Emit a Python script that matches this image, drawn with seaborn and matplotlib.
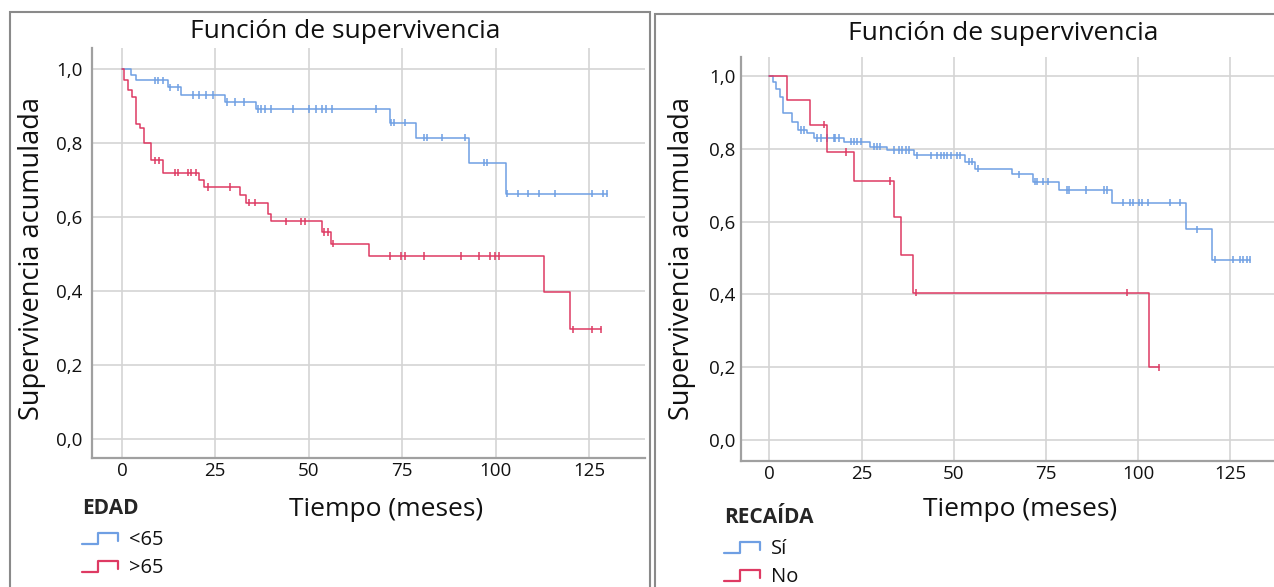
import numpy as np
import pandas as pd
import matplotlib.pyplot as plt
from matplotlib.lines import Line2D
from matplotlib.patches import Rectangle
from matplotlib.legend_handler import HandlerBase
from matplotlib.ticker import FuncFormatter
import seaborn as sns

# Panel izquierdo: EDAD
edad_menor_t = [0, 2.5, 3.8, 12.4, 15.9, 27.5, 35.8, 71.8, 78.8, 93.0, 102.9]
edad_menor_s = [1.0, 0.985, 0.97, 0.951, 0.93, 0.911, 0.892, 0.855, 0.815, 0.747, 0.664]
edad_menor_cens = [8.8, 9.7, 11.0, 12.9, 15.0, 19.0, 20.6, 22.6, 24.4, 28.0, 30.2, 32.8,
                   36.4, 37.3, 38.2, 40.0, 45.8, 50.2, 52.0, 53.6, 54.6, 56.3, 68.0,
                   72.1, 72.9, 75.9, 80.9, 81.7, 85.8, 91.9, 97.0, 97.8, 103.2, 105.9,
                   108.8, 111.7, 115.8, 125.9, 128.7, 129.9]

edad_mayor_t = [0, 0.5, 1.7, 2.8, 3.9, 4.8, 5.9, 7.9, 10.9, 20.7, 21.9, 31.7, 33.1,
                39.1, 40.0, 53.6, 56.0, 66.0, 113.0, 119.8]
edad_mayor_s = [1.0, 0.97, 0.943, 0.925, 0.853, 0.84, 0.80, 0.754, 0.72, 0.70, 0.682,
                0.661, 0.639, 0.61, 0.589, 0.56, 0.529, 0.495, 0.398, 0.297]
edad_mayor_cens = [8.8, 10.0, 14.2, 14.9, 17.7, 18.6, 19.9, 23.1, 28.9, 34.0, 35.5, 44.0,
                   48.0, 48.9, 54.2, 55.2, 56.5, 71.8, 74.7, 75.9, 80.9, 90.7, 95.7,
                   98.5, 99.9, 100.8, 120.7, 125.9, 128.1]

# Panel derecho: RECAIDA
recaida_si_t = [0, 1.0, 1.9, 3.0, 3.6, 6.0, 7.8, 10.2, 12.1, 20.2, 27.4, 31.9, 39.2,
                53.0, 55.7, 65.7, 71.5, 78.6, 92.8, 112.9, 119.9]
recaida_si_s = [1.0, 0.984, 0.966, 0.943, 0.898, 0.874, 0.852, 0.843, 0.83, 0.82, 0.806,
                0.797, 0.783, 0.765, 0.746, 0.73, 0.71, 0.687, 0.652, 0.579, 0.496]
recaida_si_cens = [8.5, 9.4, 13.0, 13.9, 15.7, 17.5, 17.9, 18.8, 22.0, 22.9, 23.8, 24.7,
                   28.3, 29.2, 30.1, 33.7, 35.1, 36.0, 36.9, 37.8, 40.1, 43.7, 45.5,
                   46.4, 47.3, 48.2, 49.1, 50.9, 51.8, 54.0, 54.8, 56.6, 67.8, 72.0,
                   72.6, 74.2, 75.6, 80.6, 81.3, 85.8, 90.8, 91.4, 95.8, 97.8, 98.5,
                   100.3, 100.9, 102.7, 108.6, 111.3, 115.8, 120.8, 125.6, 127.6,
                   128.5, 129.4, 130.3]

recaida_no_t = [0, 4.9, 10.9, 15.7, 22.9, 33.7, 35.7, 38.8, 102.8]
recaida_no_s = [1.0, 0.934, 0.867, 0.792, 0.712, 0.612, 0.508, 0.405, 0.20]
recaida_no_cens = [14.8, 20.9, 32.8, 39.7, 96.9, 105.7]

edad_labels = ["<65", ">65"]
recaida_labels = ["Sí", "No"]

AZUL = "#6f9fe3"
ROJO = "#de3a63"
FONT = ["Open Sans", "DejaVu Sans"]


def curve_frames(groups):
    steps, cens = [], []
    for name, t, s, c in groups:
        t = list(t) + [max(c)]
        s = list(s) + [s[-1]]
        steps.append(pd.DataFrame({"t": t, "s": s, "g": name}))
        idx = np.searchsorted(t, c, side="right") - 1
        cens.append(pd.DataFrame({"t": c, "s": np.array(s)[idx], "g": name}))
    return pd.concat(steps), pd.concat(cens)


class StepHandler(HandlerBase):
    def create_artists(self, legend, orig_handle, xdescent, ydescent,
                       width, height, fontsize, trans):
        xs = np.array([0, 0.45, 0.45, 1.0, 1.0]) * width - xdescent
        ys = np.array([0.05, 0.05, 0.85, 0.85, 0.3]) * height - ydescent
        ln = Line2D(xs, ys, color=orig_handle.get_color(), lw=1.6, transform=trans)
        return [ln]


def draw_panel(fig, rect, groups, xlim, ylim, ytick_pad):
    ax = fig.add_axes(rect)
    steps, cens = curve_frames(groups)
    pal = {g[0]: c for g, c in zip(groups, [AZUL, ROJO])}
    sns.lineplot(data=steps, x="t", y="s", hue="g", palette=pal, estimator=None,
                 drawstyle="steps-post", linewidth=1.1, legend=False, ax=ax)
    sns.scatterplot(data=cens, x="t", y="s", hue="g", palette=pal, marker="|",
                    s=28, linewidth=1.1, legend=False, ax=ax)
    ax.set_xlim(*xlim)
    ax.set_ylim(*ylim)
    ax.set_xticks([0, 25, 50, 75, 100, 125])
    ax.set_yticks([0, 0.2, 0.4, 0.6, 0.8, 1.0])
    ax.yaxis.set_major_formatter(FuncFormatter(lambda v, p: f"{v:.1f}".replace(".", ",")))
    ax.set_xlabel("")
    ax.set_ylabel("")
    ax.grid(True, color="#d4d4d4", linewidth=1.2)
    for side in ["top", "right"]:
        ax.spines[side].set_visible(False)
    for side in ["left", "bottom"]:
        ax.spines[side].set_color("#a0a0a0")
        ax.spines[side].set_linewidth(1.6)
    ax.tick_params(axis="both", length=0, labelsize=13.5, colors="#111111")
    ax.tick_params(axis="y", pad=ytick_pad)
    ax.tick_params(axis="x", pad=3)
    return ax


def main():
    sns.set_style("white")
    plt.rcParams["font.family"] = FONT

    W, H = 1274, 587
    fig = plt.figure(figsize=(W / 100, H / 100), dpi=100)

    def fx(px):
        return px / W

    def fy(py):
        return 1 - py / H

    # marcos de los paneles
    fig.add_artist(Rectangle((fx(10), fy(600)), fx(640), (600 - 12) / H, fill=False,
                             edgecolor="#8a8a8a", linewidth=1.5, transform=fig.transFigure))
    fig.add_artist(Rectangle((fx(655), fy(600)), fx(640), (600 - 14) / H, fill=False,
                             edgecolor="#8a8a8a", linewidth=1.5, transform=fig.transFigure))

    draw_panel(fig, [fx(92), fy(458), fx(645 - 92), (458 - 48) / H],
               [(edad_labels[0], edad_menor_t, edad_menor_s, edad_menor_cens),
                (edad_labels[1], edad_mayor_t, edad_mayor_s, edad_mayor_cens)],
               (-8, 140), (-0.05, 1.057), 7)
    draw_panel(fig, [fx(741), fy(461), fx(1274 - 741), (461 - 57) / H],
               [(recaida_labels[0], recaida_si_t, recaida_si_s, recaida_si_cens),
                (recaida_labels[1], recaida_no_t, recaida_no_s, recaida_no_cens)],
               (-7.7, 136.8), (-0.058, 1.053), 4)

    txt = dict(color="#111111", ha="center", va="center")
    fig.text(fx(345), fy(31), "Función de supervivencia", fontsize=19, **txt)
    fig.text(fx(1003), fy(34), "Función de supervivencia", fontsize=19, **txt)
    fig.text(fx(32), fy(258), "Supervivencia acumulada", fontsize=19.5, rotation=90, **txt)
    fig.text(fx(682), fy(258), "Supervivencia acumulada", fontsize=19.5, rotation=90, **txt)
    fig.text(fx(386), fy(510), "Tiempo (meses)", fontsize=19, **txt)
    fig.text(fx(1020), fy(510), "Tiempo (meses)", fontsize=19, **txt)

    for title, labels, x0, y0 in [("EDAD", edad_labels, 78, 494),
                                  ("RECAÍDA", recaida_labels, 720, 503)]:
        handles = [Line2D([], [], color=AZUL), Line2D([], [], color=ROJO)]
        leg = fig.legend(handles, labels, title=title, loc="upper left",
                         bbox_to_anchor=(fx(x0), fy(y0)), frameon=False,
                         handler_map={Line2D: StepHandler()}, fontsize=14.5,
                         title_fontproperties={"weight": "bold", "size": 15},
                         alignment="left", handlelength=1.8, handletextpad=0.55,
                         labelspacing=0.4, borderaxespad=0, borderpad=0.2)
        leg._legend_box.sep = 8
        for t in leg.get_texts():
            t.set_color("#111111")

    fig.savefig("out.png", dpi=100)


if __name__ == "__main__":
    main()
